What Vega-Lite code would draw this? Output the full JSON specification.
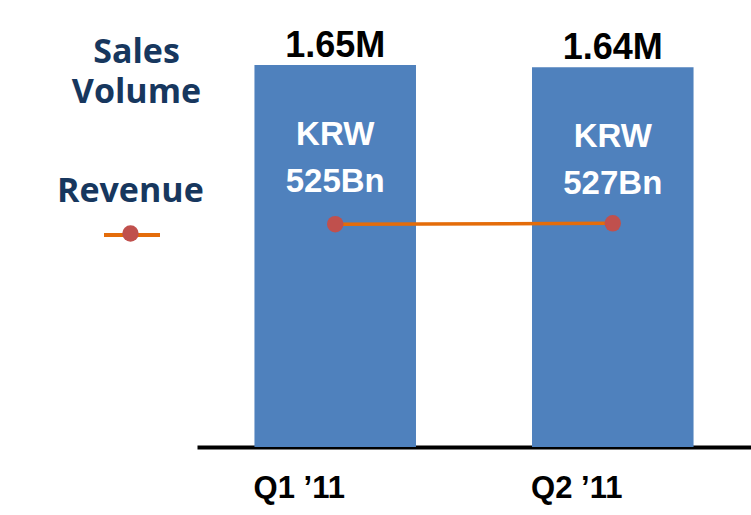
{
  "$schema": "https://vega.github.io/schema/vega-lite/v6.json",
  "width": 554,
  "height": 382,
  "autosize": {"type": "none"},
  "padding": {"left": 197, "top": 65, "right": 0, "bottom": 68},
  "background": "white",
  "data": {"values": [
    {"quarter": "Q1 ’11", "volume": 1.65, "volume_label": "1.65M", "revenue": 525, "revenue_label": "KRW\n525Bn"},
    {"quarter": "Q2 ’11", "volume": 1.64, "volume_label": "1.64M", "revenue": 527, "revenue_label": "KRW\n527Bn"}
  ]},
  "encoding": {
    "x": {
      "field": "quarter", "type": "nominal", "sort": null,
      "scale": {"paddingInner": 0.418, "paddingOuter": 0.207},
      "axis": {
        "title": null, "labelAngle": 0, "labelFont": "Liberation Sans", "labelFontWeight": "bold",
        "labelFontSize": 31, "labelColor": "black", "labelPadding": 50, "labelBaseline": "alphabetic",
        "labelOffset": -36, "ticks": false, "tickSize": 0, "domainColor": "black", "domainWidth": 4, "grid": false
      }
    }
  },
  "layer": [
    {
      "encoding": {
        "y": {
          "field": "volume", "type": "quantitative",
          "scale": {"domain": [0, 1.65], "nice": false},
          "axis": {
            "title": ["Sales", "Volume"], "titleAngle": 0, "titleX": -61, "titleY": -3,
            "titleAlign": "center", "titleBaseline": "alphabetic", "titleFont": "Open Sans",
            "titleFontWeight": "bold", "titleFontSize": 34, "titleColor": "#17375E", "titleLineHeight": 40,
            "labels": false, "ticks": false, "domain": false, "grid": false
          }
        }
      },
      "layer": [
        {"mark": {"type": "bar", "color": "#4F81BD"}},
        {
          "mark": {"type": "text", "font": "Liberation Sans", "fontWeight": "bold", "fontSize": 36, "color": "black", "baseline": "alphabetic", "dy": -8},
          "encoding": {"text": {"field": "volume_label"}}
        },
        {
          "mark": {"type": "text", "font": "Liberation Sans", "fontWeight": "bold", "fontSize": 33, "color": "white", "baseline": "alphabetic", "dy": 80, "lineBreak": "\n", "lineHeight": 47},
          "encoding": {"text": {"field": "revenue_label"}}
        }
      ]
    },
    {
      "encoding": {
        "y": {"field": "revenue", "type": "quantitative", "scale": {"domain": [0, 900], "nice": false}, "axis": null}
      },
      "layer": [
        {
          "mark": {"type": "line", "strokeWidth": 3.5},
          "encoding": {
            "stroke": {
              "datum": "Revenue",
              "scale": {"domain": ["Revenue"], "range": ["#E46C0A"]},
              "legend": {
                "orient": "none", "legendX": -140, "legendY": 110, "title": "Revenue",
                "titleFont": "Open Sans", "titleFontWeight": "bold", "titleFontSize": 34, "titleColor": "#17375E",
                "titlePadding": -4, "labelExpr": "''", "symbolType": "stroke", "symbolSize": 3136,
                "symbolStrokeWidth": 4, "symbolOffset": 45, "padding": 0, "zindex": 0
              }
            }
          }
        },
        {
          "mark": {"type": "point", "filled": true, "size": 270, "opacity": 1},
          "encoding": {
            "fill": {
              "datum": "Rev",
              "scale": {"domain": ["Rev"], "range": ["#C0504D"]},
              "legend": {
                "orient": "none", "legendX": -75, "legendY": 160, "title": null, "labelExpr": "''",
                "symbolType": "circle", "symbolSize": 270, "symbolStrokeWidth": 0, "padding": 0, "zindex": 1
              }
            }
          }
        }
      ]
    }
  ],
  "resolve": {"scale": {"y": "independent"}},
  "config": {"view": {"stroke": null}}
}
